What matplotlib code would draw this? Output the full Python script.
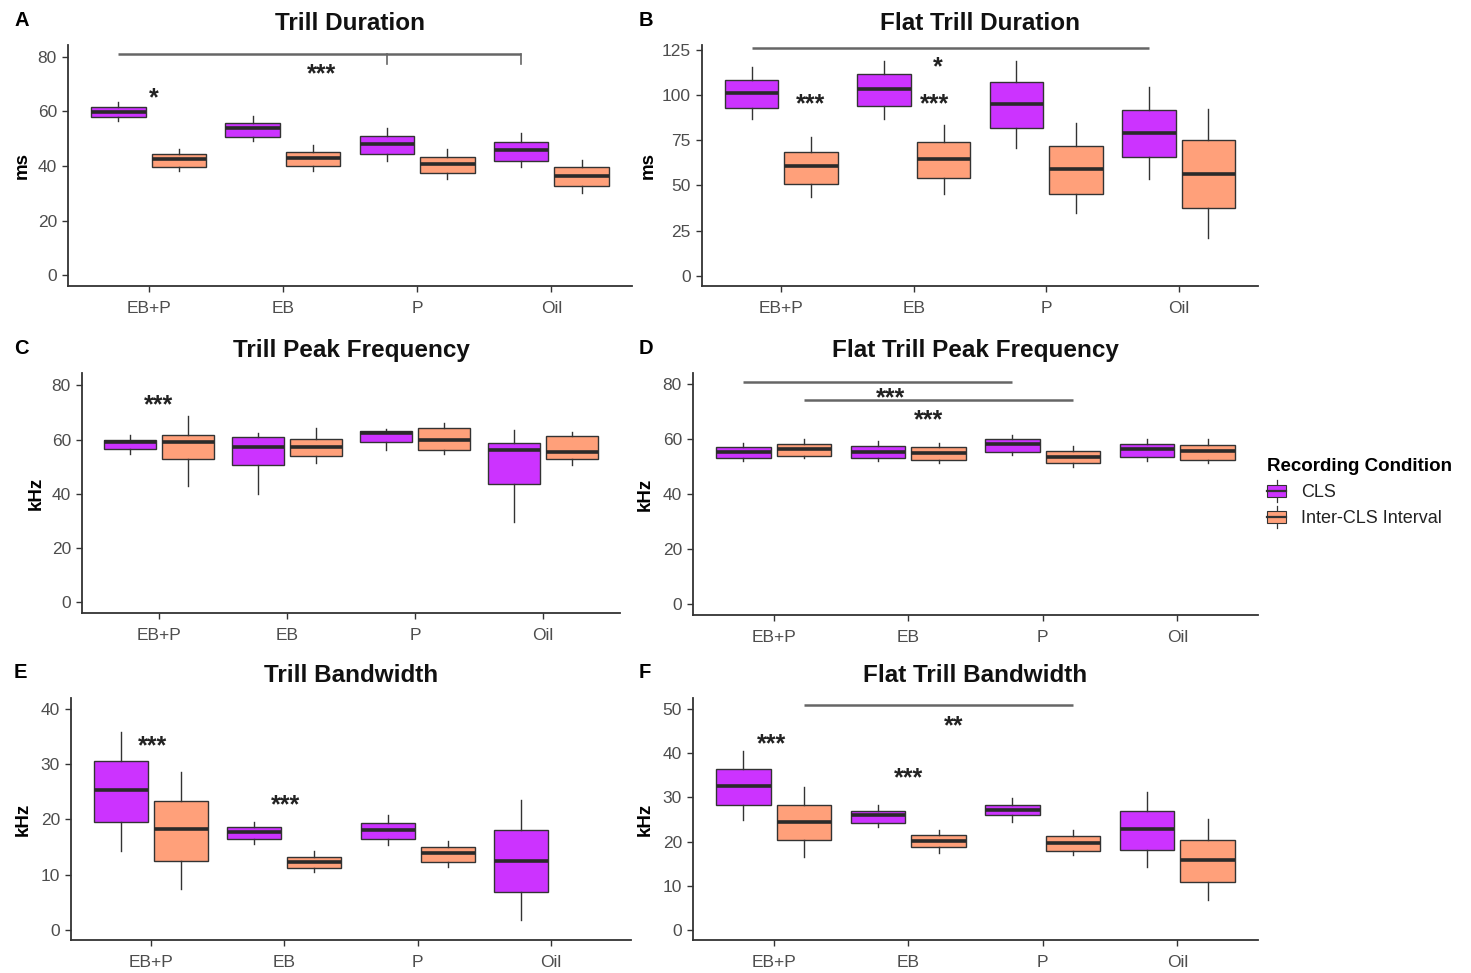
import matplotlib
matplotlib.use("Agg")
import matplotlib.pyplot as plt
from matplotlib.patches import Patch, Rectangle
from matplotlib.lines import Line2D
from matplotlib.legend_handler import HandlerBase

plt.rcParams['font.family'] = ['Liberation Sans', 'DejaVu Sans']

groups = ['EB+P', 'EB', 'P', 'Oil']
conditions = ['CLS', 'Inter-CLS Interval']
colors = ['#CC33FF', '#FFA07A']

# each row: whisker low, Q1, median, Q3, whisker high (one row per group)
trill_dur_cls = [[56.6, 57.8, 59.6, 61.7, 63.5], [49.3, 50.7, 53.8, 55.7, 58.3],
                 [42.0, 44.4, 48.0, 51.1, 54.0], [39.8, 42.0, 45.9, 48.8, 52.0]]
trill_dur_int = [[38.3, 39.8, 42.4, 44.4, 46.2], [38.2, 40.1, 43.0, 45.2, 47.6],
                 [35.1, 37.6, 40.7, 43.2, 46.1], [30.2, 32.8, 36.5, 39.5, 42.2]]

flat_dur_cls = [[87.1, 93.1, 101.6, 108.6, 115.8], [87.1, 94.0, 103.8, 111.7, 119.1],
                [71.0, 82.1, 95.4, 107.3, 119.0], [53.6, 65.9, 79.4, 92.0, 104.6]]
flat_dur_int = [[43.4, 51.0, 60.8, 68.5, 77.0], [45.2, 53.9, 64.8, 74.0, 83.4],
                [34.6, 45.5, 59.4, 71.8, 84.5], [20.8, 37.3, 56.5, 75.2, 92.7]]

trill_pf_cls = [[54.9, 56.7, 59.0, 59.8, 61.7], [39.9, 50.7, 57.2, 61.0, 62.5],
                [56.3, 59.0, 62.5, 63.3, 64.1], [29.5, 43.8, 56.1, 58.8, 63.5]]
trill_pf_int = [[42.8, 53.0, 59.0, 61.9, 68.6], [51.4, 53.9, 57.3, 60.3, 64.5],
                [54.9, 56.3, 60.0, 64.2, 66.2], [50.7, 53.0, 55.4, 61.3, 62.7]]

flat_pf_cls = [[52.0, 53.3, 55.3, 57.2, 58.7], [51.9, 53.2, 55.5, 57.7, 59.3],
               [54.1, 55.4, 58.1, 60.0, 61.6], [52.0, 53.6, 56.5, 58.4, 60.0]]
flat_pf_int = [[53.0, 53.9, 56.5, 58.1, 59.9], [51.4, 52.6, 54.9, 57.2, 58.7],
               [49.9, 51.2, 53.5, 55.8, 57.5], [51.2, 52.6, 55.8, 57.8, 60.2]]

trill_bw_cls = [[14.3, 19.5, 25.2, 30.5, 35.7], [15.6, 16.4, 17.7, 18.6, 19.5],
                [15.4, 16.4, 18.0, 19.3, 20.7], [1.8, 6.8, 12.5, 18.1, 23.4]]
trill_bw_int = [[7.4, 12.5, 18.3, 23.3, 28.6], [10.4, 11.2, 12.2, 13.1, 14.2],
                [11.3, 12.2, 13.9, 15.0, 16.0], None]

flat_bw_cls = [[24.9, 28.2, 32.5, 36.4, 40.4], [23.4, 24.3, 26.1, 27.0, 28.3],
               [24.5, 25.9, 27.2, 28.3, 29.8], [14.2, 18.0, 22.9, 27.0, 31.3]]
flat_bw_int = [[16.5, 20.3, 24.5, 28.2, 32.3], [17.4, 18.7, 20.1, 21.5, 22.7],
               [16.9, 17.9, 19.7, 21.2, 22.7], [6.9, 10.8, 15.9, 20.3, 25.1]]

W, H = 1471, 973
DODGE = 0.225
BOXW = 0.405


def pos(g, c):
    return g + 1 + (DODGE if c else -DODGE)


# (letter, title, ylabel, cls, inter, yticks, ylim, axes box in px: left, top, right, bottom,
#  x of letter / y label in px, brackets (x0, x1, y, tips, tip_end), stars (label, x, y))
panels = [
    ('A', 'Trill Duration', 'ms', trill_dur_cls, trill_dur_int, [0, 20, 40, 60, 80], (-3.9, 84.3),
     (68, 45, 632, 286), (14, 22),
     [(pos(0, 0), pos(3, 0), 81.0, [pos(2, 0), pos(3, 0)], 77.5)],
     [('*', 1.04, 67.4), ('***', 2.29, 76.3)]),
    ('B', 'Flat Trill Duration', 'ms', flat_dur_cls, flat_dur_int, [0, 25, 50, 75, 100, 125], (-5.8, 128),
     (702, 45, 1258, 286), (639, 648),
     [(pos(0, 0), pos(3, 0), 126.2, [], None)],
     [('*', 2.18, 119.5), ('***', 1.22, 99.5), ('***', 2.16, 99.5)]),
    ('C', 'Trill Peak Frequency', 'kHz', trill_pf_cls, trill_pf_int, [0, 20, 40, 60, 80], (-3.9, 84.6),
     (82, 373, 620, 613), (14, 36),
     [],
     [('***', 1.0, 75.4)]),
    ('D', 'Flat Trill Peak Frequency', 'kHz', flat_pf_cls, flat_pf_int, [0, 20, 40, 60, 80], (-4.0, 84.1),
     (693, 373, 1258, 615), (639, 645),
     [(pos(0, 0), pos(2, 0), 80.8, [], None), (pos(0, 1), pos(2, 1), 74.2, [], None)],
     [('***', 1.87, 77.7), ('***', 2.15, 69.7)]),
    ('E', 'Trill Bandwidth', 'kHz', trill_bw_cls, trill_bw_int, [0, 10, 20, 30, 40], (-1.8, 41.9),
     (71, 698, 631, 940), (14, 23),
     [],
     [('***', 1.01, 34.6), ('***', 2.01, 23.9)]),
    ('F', 'Flat Trill Bandwidth', 'kHz', flat_bw_cls, flat_bw_int, [0, 10, 20, 30, 40, 50], (-2.2, 52.4),
     (693, 698, 1258, 940), (639, 645),
     [(pos(0, 1), pos(2, 1), 50.9, [], None)],
     [('**', 2.34, 47.7), ('***', 0.98, 43.7), ('***', 2.0, 36.0)]),
]

fig = plt.figure(figsize=(W / 100, H / 100), dpi=100)

EDGE = '#333333'
STAR_FS = 18

for letter, title, ylab, cls, inter, yticks, ylim, box, side, brackets, stars in panels:
    l, t, r, b = box
    ax = fig.add_axes([l / W, 1 - b / H, (r - l) / W, (b - t) / H])

    for c, series in enumerate([cls, inter]):
        stats, positions = [], []
        for g, v in enumerate(series):
            if v is None:
                continue
            stats.append(dict(whislo=v[0], q1=v[1], med=v[2], q3=v[3], whishi=v[4], fliers=[]))
            positions.append(pos(g, c))
        ax.bxp(stats, positions=positions, widths=BOXW, patch_artist=True, showcaps=False,
               boxprops=dict(facecolor=colors[c], edgecolor=EDGE, linewidth=1.0),
               whiskerprops=dict(color=EDGE, linewidth=1.0),
               medianprops=dict(color='#2a2a2a', linewidth=2.6), manage_ticks=False)

    for x0, x1, y, tips, tip_end in brackets:
        ax.plot([x0, x1], [y, y], color='#666666', lw=1.8, solid_capstyle='butt', clip_on=False)
        for tx in tips:
            ax.plot([tx, tx], [y, tip_end], color='#666666', lw=1.2, clip_on=False)
    for label, x, y in stars:
        ax.annotate(label, (x, y), xytext=(0, -0.58 * STAR_FS), textcoords='offset points',
                    ha='center', va='baseline', fontsize=STAR_FS, fontweight='bold', color='#222222')

    ax.set_xlim(0.4, 4.6)
    ax.set_ylim(*ylim)
    ax.set_xticks(range(1, 5))
    ax.set_xticklabels(groups)
    ax.set_yticks(yticks)
    for s in ['top', 'right']:
        ax.spines[s].set_visible(False)
    for s in ['left', 'bottom']:
        ax.spines[s].set_color('#333333')
        ax.spines[s].set_linewidth(1.3)
    ax.tick_params(length=4.5, width=1.0, color='#333333', labelsize=12.5, labelcolor='#4D4D4D')
    ax.tick_params(axis='x', pad=6)

    cx = (l + r) / 2
    fig.text(cx / W, 1 - (t - 22) / H, title, ha='center', va='center', fontsize=17.5, fontweight='bold',
             color='#111111')
    fig.text(side[0] / W, 1 - (t - 25) / H, letter, ha='left', va='center', fontsize=14.5, fontweight='bold')
    fig.text(side[1] / W, 1 - ((t + b) / 2) / H, ylab, rotation=90,
             ha='center', va='center', fontsize=13.5, fontweight='bold')


class BoxKey(HandlerBase):
    def create_artists(self, legend, orig_handle, xdescent, ydescent, width, height, fontsize, trans):
        x0, y0 = -xdescent, -ydescent
        cx = x0 + width / 2
        whisk = Line2D([cx, cx], [y0 - 0.2 * height, y0 + 1.2 * height], color=EDGE, lw=0.9, transform=trans)
        rect = Rectangle((x0, y0 + 0.1 * height), width, 0.8 * height, facecolor=orig_handle.get_facecolor(),
                         edgecolor=EDGE, lw=0.8, transform=trans)
        med = Line2D([x0, x0 + width], [y0 + 0.5 * height] * 2, color=EDGE, lw=1.6, transform=trans)
        return [whisk, rect, med]


handles = [Patch(facecolor=colors[i], label=conditions[i]) for i in range(2)]
leg = fig.legend(handles=handles, loc='upper left', bbox_to_anchor=(1260 / W, 1 - 451 / H),
                 title='Recording Condition', frameon=False, fontsize=13, title_fontsize=13.5,
                 handler_map={Patch: BoxKey()}, handlelength=1.05, handleheight=0.95, handletextpad=0.8,
                 labelspacing=0.45, alignment='left', borderaxespad=0)
leg.get_title().set_fontweight('bold')
for txt in leg.get_texts():
    txt.set_color('#222222')

fig.savefig('out.png', dpi=100)
